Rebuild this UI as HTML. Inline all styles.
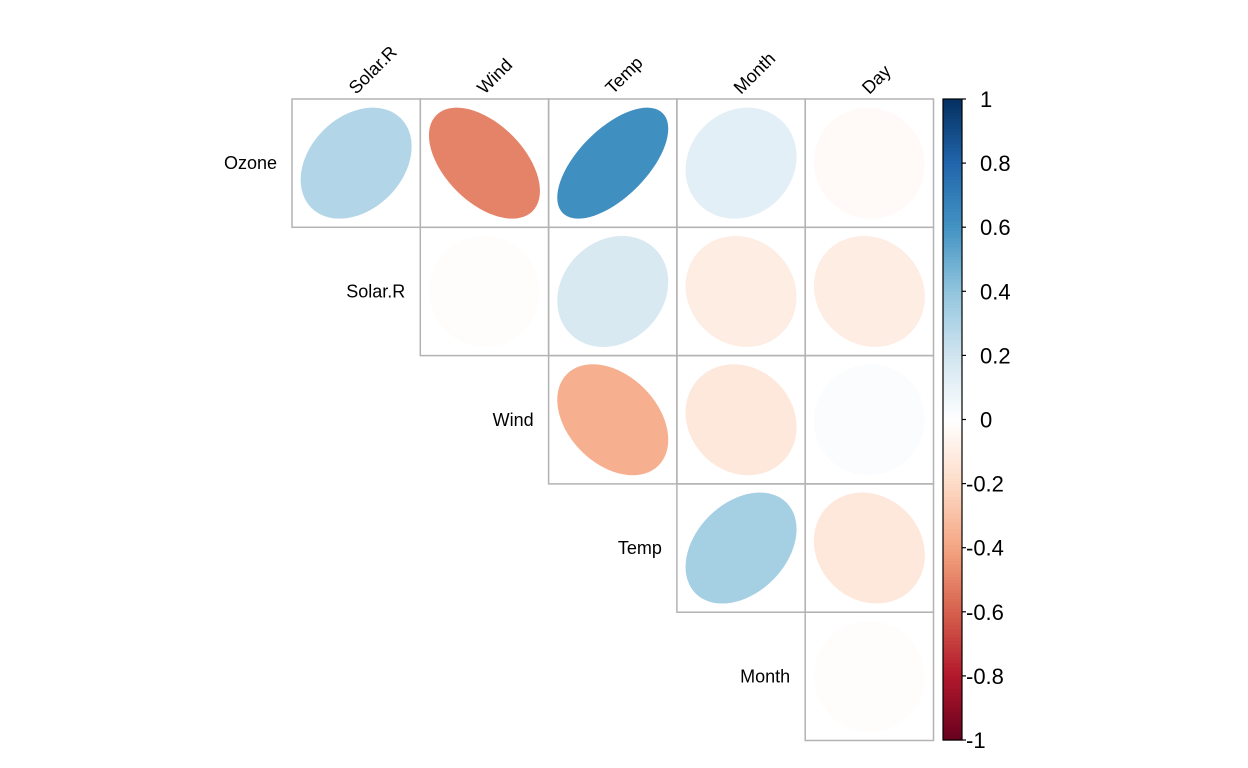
<!DOCTYPE html>
<html><head><meta charset="utf-8"><style>body{margin:0;background:#fff}svg{display:block}text{font-family:"Liberation Sans",Arial,sans-serif}</style></head>
<body>
<svg id="chart" width="1248" height="768" viewBox="0 0 1248 768" xmlns="http://www.w3.org/2000/svg"></svg>
<script>
const rowVars = ["Ozone","Solar.R","Wind","Temp","Month"];
const colVars = ["Solar.R","Wind","Temp","Month","Day"];
// correlation values, row i, column j (upper triangle; null = empty)
const rOzone  = [0.30,-0.50,0.62,0.12,-0.03];
const rSolarR = [null,-0.01,0.17,-0.10,-0.10];
const rWind   = [null,null,-0.36,-0.13,0.02];
const rTemp   = [null,null,null,0.34,-0.13];
const rMonth  = [null,null,null,null,-0.01];
const corr = [rOzone,rSolarR,rWind,rTemp,rMonth];
const barTicks = [1,0.8,0.6,0.4,0.2,0,-0.2,-0.4,-0.6,-0.8,-1];
const barLabels = ["1","0.8","0.6","0.4","0.2","0","-0.2","-0.4","-0.6","-0.8","-1"];

const NS="http://www.w3.org/2000/svg", svg=document.getElementById('chart');
const x0=292, y0=99, cw=128.3;
const xCell=j=>x0+j*cw, yCell=i=>y0+i*cw;
const stops=[[-1,[103,0,31]],[-0.8,[178,24,43]],[-0.6,[214,96,77]],[-0.4,[244,165,130]],[-0.2,[253,219,199]],[0,[255,255,255]],[0.2,[209,229,240]],[0.4,[146,197,222]],[0.6,[67,147,195]],[0.8,[33,102,172]],[1,[5,48,97]]];
function col(v){for(let k=0;k<stops.length-1;k++){const a=stops[k],b=stops[k+1];if(v>=a[0]&&v<=b[0]){const t=(v-a[0])/(b[0]-a[0]);return 'rgb('+a[1].map((c,m)=>Math.round(c+(b[1][m]-c)*t)).join(',')+')';}}return 'rgb(255,255,255)';}
function mk(tag,attrs){const e=document.createElementNS(NS,tag);for(const k in attrs)e.setAttribute(k,attrs[k]);svg.appendChild(e);return e;}

corr.forEach((row,i)=>row.forEach((v,j)=>{
  if(v===null)return;
  const cx=xCell(j)+cw/2, cy=yCell(i)+cw/2, a=Math.acos(v), R=55.5;
  let d='';
  for(let s=0;s<=72;s++){const t=s/72*2*Math.PI;const px=cx+R*Math.cos(t+a/2), py=cy-R*Math.cos(t-a/2);d+=(s?'L':'M')+px.toFixed(2)+','+py.toFixed(2);}
  const e=mk('path',{d:d+'Z',fill:col(v)});
  
  
  const r=mk('rect',{x:xCell(j),y:yCell(i),width:cw,height:cw,fill:'none',stroke:'#b3b3b3','stroke-width':1.5});
  
  
}));
rowVars.forEach((n,i)=>{
  const t=mk('text',{x:xCell(i)-15,y:yCell(i)+cw/2+6,'text-anchor':'end','font-size':18});
  t.textContent=n;
  
  
});
colVars.forEach((n,j)=>{
  const x=xCell(j)+cw/2, y=95;
  const t=mk('text',{x:x,y:y,'font-size':18,transform:'rotate(-45 '+x+' '+y+')'});
  t.textContent=n;
  
  
});
// color bar
const bx=943,bw=19,bt=99,bb=740;
const yBar=v=>bb-(v+1)/2*(bb-bt);
for(let k=0;k<200;k++){const v=-1+(k+0.5)/100;const r=mk('rect',{x:bx,y:yBar(-1+(k+1)/100),width:bw,height:(bb-bt)/200+0.6,fill:col(v)});

}
const fr=mk('rect',{x:bx,y:bt,width:bw,height:bb-bt,fill:'none',stroke:'#000','stroke-width':1.2});


barTicks.forEach((v,k)=>{
  const y=yBar(v);
  const l=mk('line',{x1:bx+bw,x2:bx+bw+4,y1:y,y2:y,stroke:'#000','stroke-width':1.2});
  
  
  const t=mk('text',{x:v<0?bx+bw+4:bx+bw+18,y:y+8,'font-size':22});
  t.textContent=barLabels[k];
  
  
});
</script>
</body></html>
